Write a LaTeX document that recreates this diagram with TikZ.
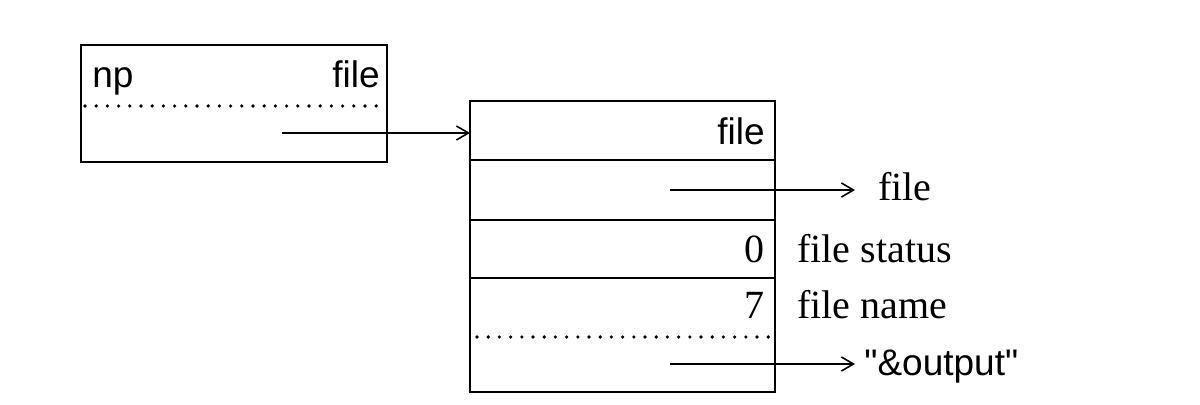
\documentclass[tikz,border=0pt]{standalone}
\usepackage{fontspec}
\setmainfont{Liberation Serif}
\setsansfont{Liberation Sans}
\usetikzlibrary{arrows.meta}
\tikzset{
  box/.style={line width=1.1pt},
  dotline/.style={line width=1.8pt, line cap=round, dash pattern=on 0pt off 5.6pt},
  ptr/.style={line width=0.8pt, -{Straight Barb[length=6pt,width=7pt,line width=0.8pt]}},
  sflabel/.style={font=\sffamily\fontsize{18.5}{22}\selectfont, inner sep=0pt},
  rmlabel/.style={font=\fontsize{20}{24}\selectfont, inner sep=0pt}
}
\begin{document}
\begin{tikzpicture}[x=0.5pt, y=-0.5pt]
    \useasboundingbox (0,0) rectangle (1200,405);

    % left box: np
    \draw[box] (81,45) rectangle (387,162);
    \draw[dotline] (85,106) -- (383,106);
    \node[sflabel, anchor=base west] (np) at (92,88) {np};
    \node[sflabel, anchor=base east] (npfile) at (380,88) {file};
    \coordinate (nptail) at (282,133);

    % right box: file record
    \draw[box] (470,101) rectangle (775,392);
    \foreach \y in {160,220,278} \draw[box] (470,\y) -- (775,\y);
    \draw[dotline] (477,337) -- (771,337);
    \coordinate (recin) at (470,133);
    \node[sflabel, anchor=base east] (recfile) at (765,145) {file};
    \coordinate (rectail) at (670,190);
    \node[rmlabel, anchor=base east] (status) at (765,263) {0};
    \node[rmlabel, anchor=base east] (len) at (765,319) {7};
    \coordinate (nametail) at (670,364);

    % labels outside
    \node[rmlabel, anchor=base west] (filelbl) at (878,201) {file};
    \node[rmlabel, anchor=base west] (statuslbl) at (797,263) {file status};
    \node[rmlabel, anchor=base west] (namelbl) at (797,319) {file name};
    \node[sflabel, anchor=base west] (outlbl) at (864,376) {\textquotedbl\&output\textquotedbl};

    \draw[ptr] (nptail) -- (recin);
    \draw[ptr] (rectail) -- (855,190) coordinate (fileend);
    \draw[ptr] (nametail) -- (855,364) coordinate (outend);
\end{tikzpicture}
\end{document}
